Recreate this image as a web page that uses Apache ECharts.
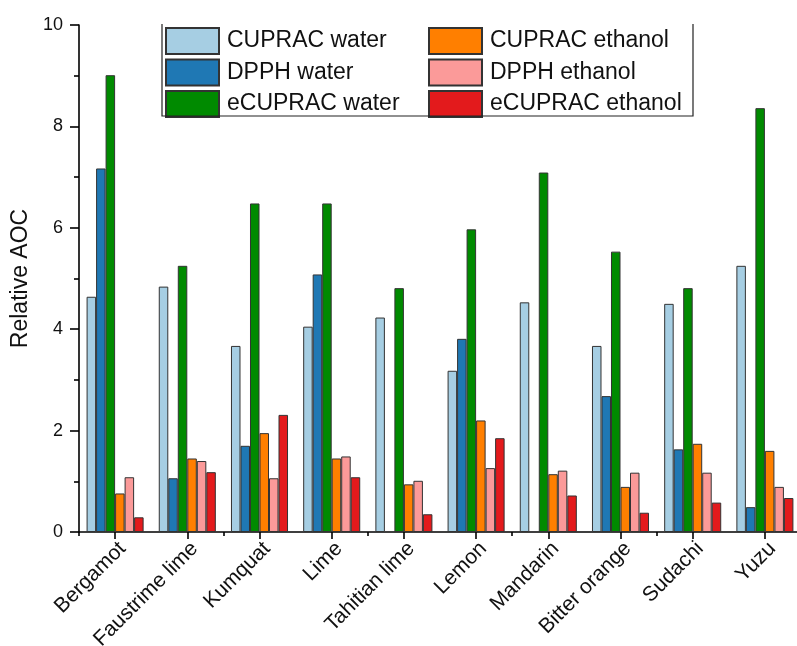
<!DOCTYPE html>
<html>
<head>
<meta charset="utf-8">
<style>
  html, body { margin: 0; padding: 0; background: #fff; }
  #chart { width: 797px; height: 646px; }
</style>
<script src="https://cdn.jsdelivr.net/npm/echarts@6/dist/echarts.min.js"></script>
</head>
<body>
<div id="chart"></div>
<script>
// Citrus fruits
const categories = ['Bergamot', 'Faustrime lime', 'Kumquat', 'Lime', 'Tahitian lime',
  'Lemon', 'Mandarin', 'Bitter orange', 'Sudachi', 'Yuzu'];

// Relative antioxidant capacity per assay and solvent (null = not measured)
const cupracWater    = [4.64, 4.84, 3.67, 4.05, 4.23, 3.18, 4.53, 3.67, 4.50, 5.25];
const dpphWater      = [7.17, 1.06, 1.70, 5.08, null, 3.81, null, 2.68, 1.63, 0.49];
const ecupracWater   = [9.01, 5.25, 6.48, 6.48, 4.81, 5.97, 7.09, 5.53, 4.81, 8.36];
const cupracEthanol  = [0.76, 1.45, 1.95, 1.45, 0.94, 2.20, 1.14, 0.89, 1.74, 1.60];
const dpphEthanol    = [1.08, 1.40, 1.06, 1.49, 1.01, 1.26, 1.21, 1.17, 1.17, 0.89];
const ecupracEthanol = [0.29, 1.18, 2.31, 1.08, 0.35, 1.85, 0.72, 0.38, 0.58, 0.67];

const yTicks = [0, 2, 4, 6, 8, 10];

const FONT = '"Liberation Sans", Arial, sans-serif';
const seriesDefs = [
  { name: 'CUPRAC water',    data: cupracWater,    color: '#a6cee3' },
  { name: 'DPPH water',      data: dpphWater,      color: '#1f78b4' },
  { name: 'eCUPRAC water',   data: ecupracWater,   color: '#008a00' },
  { name: 'CUPRAC ethanol',  data: cupracEthanol,  color: '#ff7f00' },
  { name: 'DPPH ethanol',    data: dpphEthanol,    color: '#fb9a99' },
  { name: 'eCUPRAC ethanol', data: ecupracEthanol, color: '#e31a1c' }
];

const chart = echarts.init(document.getElementById('chart'), null, { renderer: 'canvas' });

const legendBase = {
  orient: 'vertical',
  icon: 'rect',
  itemWidth: 53,
  itemHeight: 26,
  itemGap: 3.5,
  padding: 0,
  selectedMode: false,
  textStyle: { fontFamily: FONT, fontSize: 23, color: '#111', padding: [0, 0, 0, 3] }
};

chart.setOption({
  animation: false,
  backgroundColor: '#fff',
  grid: {
    left: 79, right: -4, top: 25, bottom: 114,
    containLabel: false,
    outerBoundsMode: 'none'
  },
  legend: [
    Object.assign({}, legendBase, { left: 165, top: 27, data: seriesDefs.slice(0, 3).map(s => s.name) }),
    Object.assign({}, legendBase, { left: 428, top: 27, data: seriesDefs.slice(3).map(s => s.name) })
  ],
  graphic: [{
    type: 'polyline',
    shape: { points: [[162, 24], [162, 116], [693, 116], [693, 24]] },
    style: { stroke: '#222', lineWidth: 1.2, fill: null },
    z: 10
  }],
  xAxis: [
    {
      type: 'category',
      data: categories,
      position: 'bottom',
      axisLine: { lineStyle: { color: '#000', width: 1.6 } },
      axisTick: { show: true, length: 4, lineStyle: { color: '#000', width: 1.6 } },
      axisLabel: { show: false },
      splitLine: { show: false }
    },
    {
      type: 'category',
      data: categories,
      position: 'bottom',
      axisLine: { show: false },
      axisTick: { show: true, alignWithLabel: true, length: 7, lineStyle: { color: '#000', width: 1.6 } },
      axisLabel: {
        rotate: 45, interval: 0, margin: 6, verticalAlign: 'top',
        fontFamily: FONT, fontSize: 21, color: '#111'
      },
      splitLine: { show: false }
    }
  ],
  yAxis: {
    type: 'value',
    min: yTicks[0],
    max: yTicks[yTicks.length - 1],
    interval: 2,
    name: 'Relative AOC',
    nameLocation: 'middle',
    nameRotate: 90,
    nameGap: 37,
    nameTextStyle: { fontFamily: FONT, fontSize: 23, color: '#111' },
    axisLine: { show: true, lineStyle: { color: '#000', width: 1.6 } },
    axisTick: { show: true, length: 9, lineStyle: { color: '#000', width: 1.6 } },
    minorTick: { show: true, splitNumber: 2, length: 5, lineStyle: { color: '#000', width: 1.6 } },
    axisLabel: { margin: 16, fontFamily: FONT, fontSize: 18, color: '#111' },
    splitLine: { show: false }
  },
  series: seriesDefs.map(s => ({
    name: s.name,
    type: 'bar',
    xAxisIndex: 0,
    data: s.data,
    barGap: '0%',
    barCategoryGap: '21%',
    itemStyle: { color: s.color, borderColor: '#333', borderWidth: 1 }
  }))
});
</script>
</body>
</html>
